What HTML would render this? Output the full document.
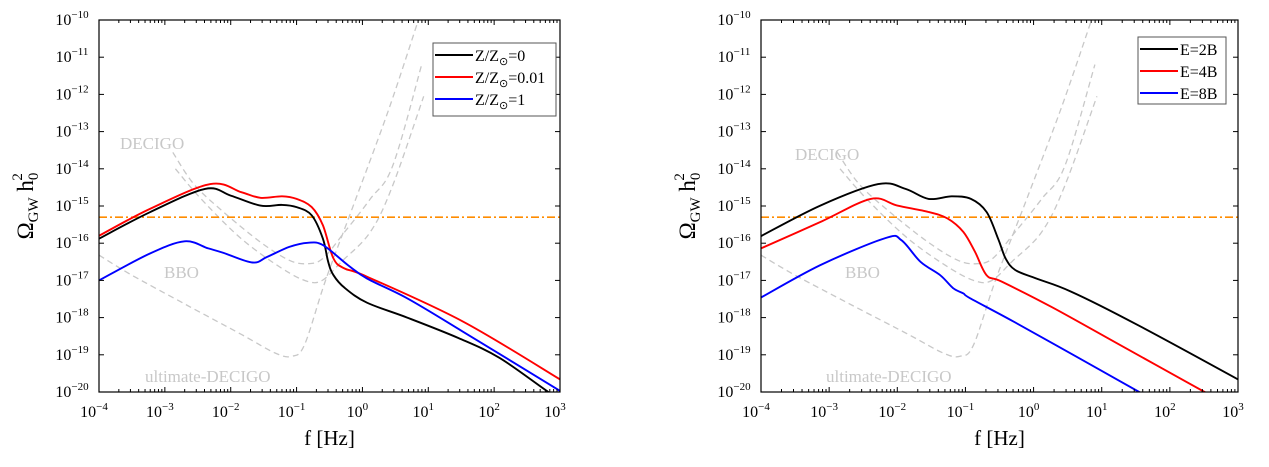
<!DOCTYPE html>
<html><head><meta charset="utf-8">
<style>
html,body{margin:0;padding:0;background:#fff;}
svg{display:block;font-family:"Liberation Serif",serif;}
</style></head>
<body>
<svg id="s" width="1269" height="467" viewBox="0 0 1269 467" xmlns="http://www.w3.org/2000/svg"></svg>
<script>
const S=document.getElementById('s');
const NS='http://www.w3.org/2000/svg';
function el(t,a,txt){const e=document.createElementNS(NS,t);for(const k in a)e.setAttribute(k,a[k]);if(txt!==undefined)e.textContent=txt;S.appendChild(e);return e;}
const decigo=[[-2.88,-13.56],[-2.56,-14.41],[-2.11,-15.16],[-1.55,-15.97],[-1.11,-16.46],[-0.83,-16.55],[-0.6,-16.41],[-0.27,-15.7],[0.12,-14.81],[0.46,-13.92],[0.9,-11.2]];
const bbo=[[-2.84,-14.0],[-2.45,-14.81],[-1.84,-15.88],[-1.22,-16.68],[-0.83,-17.03],[-0.6,-16.99],[-0.32,-16.5],[0.12,-15.7],[0.46,-14.45],[0.93,-12.05]];
const ult=[[-4,-16.32],[-3.5,-16.86],[-2.67,-17.66],[-1.83,-18.46],[-1.33,-18.95],[-1.08,-19.04],[-0.88,-18.73],[-0.55,-16.95],[-0.1,-14.81],[0.4,-12.4],[0.85,-10]];
function plot(x0,x1,y0,y1,series,legend,lg,labels){
  const X=v=>x0+(v+4)/7*(x1-x0), Y=v=>y0+(-10-v)/10*(y1-y0);
  const clip='c'+x0;
  const defs=el('defs',{});
  const d=document.createElementNS(NS,'clipPath');d.setAttribute('id',clip);defs.appendChild(d);
  const r=document.createElementNS(NS,'rect');r.setAttribute('x',x0);r.setAttribute('y',y0);r.setAttribute('width',x1-x0);r.setAttribute('height',y1-y0);d.appendChild(r);
  const path=(pts)=>{
    let s='M'+X(pts[0][0]).toFixed(1)+','+Y(pts[0][1]).toFixed(1);
    for(let i=0;i<pts.length-1;i++){
      const p0=pts[Math.max(0,i-1)],p1=pts[i],p2=pts[i+1],p3=pts[Math.min(pts.length-1,i+2)];
      const c1=[X(p1[0])+(X(p2[0])-X(p0[0]))/6,Y(p1[1])+(Y(p2[1])-Y(p0[1]))/6];
      const c2=[X(p2[0])-(X(p3[0])-X(p1[0]))/6,Y(p2[1])-(Y(p3[1])-Y(p1[1]))/6];
      s+='C'+c1[0].toFixed(1)+','+c1[1].toFixed(1)+' '+c2[0].toFixed(1)+','+c2[1].toFixed(1)+' '+X(p2[0]).toFixed(1)+','+Y(p2[1]).toFixed(1);
    }
    return s;
  };
  const g=el('g',{'clip-path':'url(#'+clip+')'});
  const add=(t,a)=>{const e=document.createElementNS(NS,t);for(const k in a)e.setAttribute(k,a[k]);g.appendChild(e);return e;};
  [decigo,bbo,ult].forEach(p=>add('path',{d:path(p),fill:'none',stroke:'#c8c8c8','stroke-width':1.3,'stroke-dasharray':'6,4'}));
  add('line',{x1:x0,x2:x1,y1:Y(-15.3),y2:Y(-15.3),stroke:'#ff8c00','stroke-width':1.6,'stroke-dasharray':'8,3,2,3'});
  series.forEach(s=>add('path',{d:path(s.p),fill:'none',stroke:s.c,'stroke-width':1.9}));
  labels.forEach(l=>el('text',{x:l[0],y:l[1],'font-size':17,fill:'#c8c8c8'},l[2]));
  el('rect',{x:x0,y:y0,width:x1-x0,height:y1-y0,fill:'none',stroke:'#000','stroke-width':1.2});
  for(let k=-4;k<=3;k++){
    const x=X(k);
    el('line',{x1:x,x2:x,y1:y1,y2:y1-5,stroke:'#000'});el('line',{x1:x,x2:x,y1:y0,y2:y0+5,stroke:'#000'});
    const t=el('text',{x:x-5,y:y1+25,'font-size':16,'text-anchor':'middle'},'10');
    const sp=document.createElementNS(NS,'tspan');sp.setAttribute('dy',-7);sp.setAttribute('font-size',11);sp.textContent=k<0?'\u2212'+(-k):''+k;t.appendChild(sp);
    if(k<3)for(let m=2;m<=9;m++){const xm=X(k+Math.log10(m));
      el('line',{x1:xm,x2:xm,y1:y1,y2:y1-3,stroke:'#000'});el('line',{x1:xm,x2:xm,y1:y0,y2:y0+3,stroke:'#000'});}
  }
  for(let k=-20;k<=-10;k++){
    const y=Y(k);
    el('line',{x1:x0,x2:x0+5,y1:y,y2:y,stroke:'#000'});el('line',{x1:x1,x2:x1-5,y1:y,y2:y,stroke:'#000'});
    const t=el('text',{x:x0-27,y:y+5,'font-size':16,'text-anchor':'middle'},'10');
    const sp=document.createElementNS(NS,'tspan');sp.setAttribute('dy',-7);sp.setAttribute('font-size',11);sp.textContent='\u2212'+(-k);t.appendChild(sp);
  }
  el('text',{x:(x0+x1)/2,y:y1+53,'font-size':21,'text-anchor':'middle'},'f [Hz]');
  const yl=el('text',{x:0,y:0,'font-size':23,transform:'translate('+(x0-66)+','+((y0+y1)/2)+') rotate(-90)','text-anchor':'middle'});
  yl.innerHTML='\u03A9<tspan font-size="15" dy="5">GW</tspan><tspan dy="-5"> h</tspan><tspan font-size="15" dy="5">0</tspan><tspan font-size="15" dy="-16" dx="-8">2</tspan>';
  el('rect',{x:lg[0],y:lg[1],width:lg[2],height:lg[3],fill:'#fff',stroke:'#555','stroke-width':1});
  legend.forEach((l,i)=>{const y=lg[1]+12+i*22;
    el('line',{x1:lg[0]+2,x2:lg[0]+40,y1:y,y2:y,stroke:l.c,'stroke-width':1.9});
    const t=el('text',{x:lg[0]+42,y:y+6,'font-size':16});t.innerHTML=l.t;});
}
const L=[
 {c:'#000',p:[[-4,-15.88],[-3.23,-15.17],[-2.39,-14.54],[-2.0,-14.72],[-1.55,-14.99],[-1.22,-14.97],[-1.0,-15.03],[-0.77,-15.25],[-0.6,-15.88],[-0.52,-16.5],[-0.44,-16.86],[-0.27,-17.2],[0.07,-17.6],[0.68,-18.0],[1.46,-18.55],[2.08,-19.08],[2.8,-19.97],[3.1,-20.3]]},
 {c:'#ff0000',p:[[-4,-15.8],[-3.23,-15.08],[-2.31,-14.41],[-1.84,-14.63],[-1.55,-14.78],[-1.22,-14.74],[-1.0,-14.81],[-0.77,-15.03],[-0.6,-15.52],[-0.44,-16.41],[-0.27,-16.68],[0.07,-16.9],[1.52,-18.1],[3,-19.66]]},
 {c:'#0000ff',p:[[-4,-17.0],[-3.23,-16.28],[-2.7,-15.95],[-2.34,-16.14],[-2.11,-16.26],[-1.67,-16.52],[-1.45,-16.37],[-1.11,-16.1],[-0.83,-15.99],[-0.6,-16.05],[-0.22,-16.59],[0.07,-16.95],[0.68,-17.48],[1.52,-18.37],[3,-19.97]]}];
plot(99,560,20,392,L,[{c:'#000',t:'Z/Z<tspan font-size="11" dy="4">\u2299</tspan><tspan dy="-4">=0</tspan>'},{c:'#ff0000',t:'Z/Z<tspan font-size="11" dy="4">\u2299</tspan><tspan dy="-4">=0.01</tspan>'},{c:'#0000ff',t:'Z/Z<tspan font-size="11" dy="4">\u2299</tspan><tspan dy="-4">=1</tspan>'}],[433,43,123,73],[[120,149,'DECIGO'],[164,278,'BBO'],[145,382,'ultimate-DECIGO']]);
const R=[
 {c:'#000',p:[[-4,-15.81],[-3.13,-14.99],[-2.28,-14.41],[-1.88,-14.54],[-1.54,-14.81],[-1.2,-14.74],[-0.92,-14.81],[-0.69,-15.16],[-0.52,-15.88],[-0.41,-16.41],[-0.27,-16.72],[0.04,-16.95],[0.55,-17.3],[1.52,-18.19],[3,-19.66]]},
 {c:'#ff0000',p:[[-4,-16.14],[-3.13,-15.43],[-2.39,-14.81],[-2.0,-14.99],[-1.54,-15.16],[-1.26,-15.34],[-1.03,-15.7],[-0.86,-16.23],[-0.69,-16.86],[-0.47,-17.03],[0.27,-17.72],[1.39,-18.86],[2.51,-20],[2.8,-20.3]]},
 {c:'#0000ff',p:[[-4,-17.46],[-3.13,-16.59],[-2.17,-15.86],[-1.94,-15.92],[-1.66,-16.5],[-1.37,-16.86],[-1.18,-17.21],[-1.03,-17.35],[-0.93,-17.48],[-0.3,-18.1],[0.62,-19.04],[1.55,-20],[1.85,-20.3]]}];
plot(761,1238,20,392,R,[{c:'#000',t:'E=2B'},{c:'#ff0000',t:'E=4B'},{c:'#0000ff',t:'E=8B'}],[1138,37,88,67],[[795,160,'DECIGO'],[845,278,'BBO'],[826,382,'ultimate-DECIGO']]);
</script>
</body></html>
